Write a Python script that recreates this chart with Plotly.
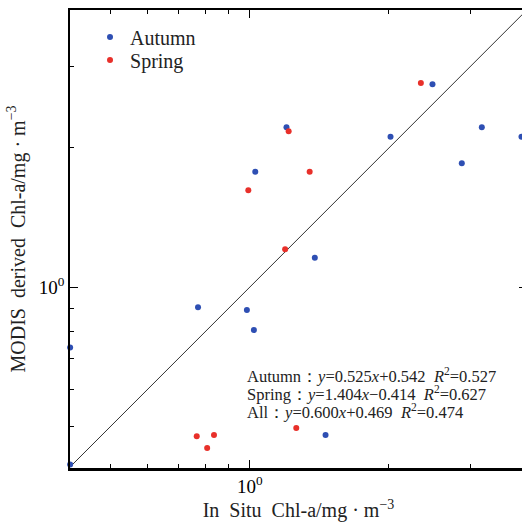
import plotly.graph_objects as go

# Data (In situ Chl-a, MODIS derived Chl-a), mg m^-3
autumn_x = [1.20, 2.485, 2.016, 3.178, 3.873, 2.876, 1.027, 1.382, 0.772, 0.985, 1.020, 0.408, 1.458, 0.408, 0.772]
autumn_y = [2.217, 2.746, 2.115, 2.217, 2.115, 1.853, 1.777, 1.157, 0.904, 0.892, 0.807, 0.740, 0.478, 0.413, 0.405]
spring_x = [2.345, 1.213, 1.347, 0.992, 1.192, 1.260, 0.767, 0.836, 0.808]
spring_y = [2.764, 2.173, 1.777, 1.619, 1.207, 0.495, 0.475, 0.478, 0.448]
one_to_one = [0.1, 10.0]

minor_vals = [0.5, 0.6, 0.7, 0.8, 0.9, 2, 3, 4]
major_vals = [1]
major_text = ["10<sup>0</sup>"]

fit_lines = [
    "Autumn：<i>y</i>=0.525<i>x</i>+0.542  <i>R</i><sup>2</sup>=0.527",
    "Spring：<i>y</i>=1.404<i>x</i>−0.414  <i>R</i><sup>2</sup>=0.627",
    "All：<i>y</i>=0.600<i>x</i>+0.469  <i>R</i><sup>2</sup>=0.474",
]
fit_line_y = [0.203, 0.163, 0.123]

BLUE = "#2e4fb3"
RED = "#e8302a"
FONT = "Liberation Serif"
XR = [-0.3896, 0.6]
YR = [-0.3918, 0.5996]

fig = go.Figure()
fig.add_trace(go.Scatter(x=one_to_one, y=one_to_one, mode="lines",
                         line=dict(color="#333333", width=1), showlegend=False,
                         hoverinfo="skip"))
fig.add_trace(go.Scatter(x=autumn_x, y=autumn_y, mode="markers", name="Autumn",
                         marker=dict(color=BLUE, size=6), cliponaxis=False,
                         legend="legend"))
fig.add_trace(go.Scatter(x=spring_x, y=spring_y, mode="markers", name="Spring",
                         marker=dict(color=RED, size=6), cliponaxis=False,
                         legend="legend2"))
# invisible traces to activate the overlay axes (minor ticks, thick bottom line)
fig.add_trace(go.Scatter(x=[], y=[], xaxis="x2", yaxis="y2", showlegend=False))
fig.add_trace(go.Scatter(x=[], y=[], xaxis="x3", yaxis="y", showlegend=False))

major_axis = dict(
    type="log", showgrid=False, zeroline=False, automargin=False,
    showline=True, linecolor="black", linewidth=1.5, mirror="ticks",
    ticks="inside", ticklen=8, tickwidth=1.2, tickcolor="black",
    tickmode="array", tickvals=major_vals, ticktext=major_text,
    tickfont=dict(family=FONT, size=19, color="black"),
)
minor_axis = dict(
    type="log", showgrid=False, zeroline=False, automargin=False,
    showline=False, mirror="ticks", showticklabels=False,
    ticks="inside", ticklen=4, tickwidth=1, tickcolor="black",
    tickmode="array", tickvals=minor_vals,
)

fig.update_layout(
    width=530, height=522,
    margin=dict(l=70, r=3, t=10, b=54),
    paper_bgcolor="white", plot_bgcolor="white",
    font=dict(family=FONT, color="black"),
    xaxis=dict(major_axis, range=XR,
               title=dict(text="In  Situ  Chl-a/mg · m<sup>−3</sup>",
                          font=dict(family=FONT, size=20, color="#222222"), standoff=4)),
    yaxis=dict(major_axis, range=YR,
               title=dict(text="MODIS  derived  Chl-a/mg · m<sup>−3</sup>",
                          font=dict(family=FONT, size=20, color="#222222"), standoff=8)),
    xaxis2=dict(minor_axis, range=XR, overlaying="x", anchor="y", side="bottom"),
    yaxis2=dict(minor_axis, range=YR, overlaying="y", anchor="x", side="left"),
    xaxis3=dict(type="log", range=XR, overlaying="x", anchor="y", side="bottom",
                showgrid=False, zeroline=False, automargin=False, ticks="",
                showticklabels=False, showline=True, linecolor="black",
                linewidth=2.5, mirror=False),
    legend=dict(x=0.0438, y=0.941, xanchor="left", yanchor="middle",
                bgcolor="rgba(0,0,0,0)", font=dict(family=FONT, size=20, color="#222222")),
    legend2=dict(x=0.0438, y=0.891, xanchor="left", yanchor="middle",
                 bgcolor="rgba(0,0,0,0)", font=dict(family=FONT, size=20, color="#222222")),
    showlegend=True,
)

for txt, yy in zip(fit_lines, fit_line_y):
    fig.add_annotation(xref="paper", yref="paper", x=0.383, y=yy,
                       xanchor="left", yanchor="middle", align="left", showarrow=False,
                       text=txt, font=dict(family=FONT, size=16.5, color="#222222"))

fig.write_html(
    "out.html",
    config={"displayModeBar": False},
    post_script="document.body.style.margin='0';document.body.style.overflow='hidden';"
                "document.documentElement.style.overflow='hidden';",
)
